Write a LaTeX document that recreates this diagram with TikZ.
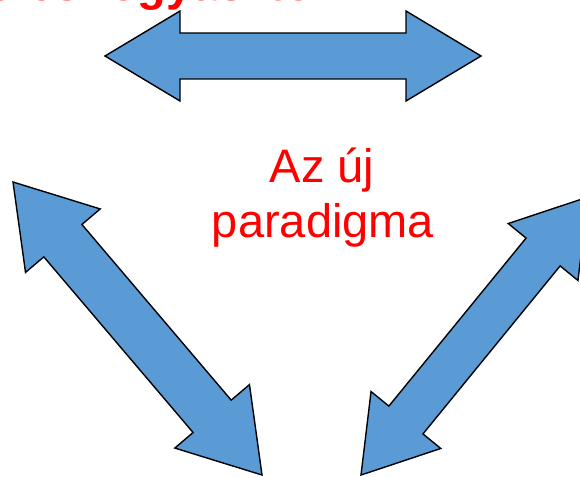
\documentclass[tikz,border=0pt]{standalone}
\usepackage{fontspec}
\setmainfont{Liberation Sans}
\usetikzlibrary{calc}
\definecolor{arrowblue}{HTML}{5B9BD5}
\definecolor{titlered}{HTML}{FF0000}
\tikzset{
  bigarrow/.style={draw=black, line width=1.4pt, fill=arrowblue, line join=miter},
  redtext/.style={text=titlered, inner sep=0pt, font=\fontsize{47}{55}\selectfont},
}
% \mydblarrow{A}{B}{head length}{head half width}{shaft half width}
\newcommand{\mydblarrow}[5]{%
  \path[bigarrow]
    (#1)
    -- ($($(#1)!#3!(#2)$)!#4!90:(#2)$)
    -- ($($(#1)!#3!(#2)$)!#5!90:(#2)$)
    -- ($($(#2)!#3!(#1)$)!#5!-90:(#1)$)
    -- ($($(#2)!#3!(#1)$)!#4!-90:(#1)$)
    -- (#2)
    -- ($($(#2)!#3!(#1)$)!#4!90:(#1)$)
    -- ($($(#2)!#3!(#1)$)!#5!90:(#1)$)
    -- ($($(#1)!#3!(#2)$)!#5!-90:(#2)$)
    -- ($($(#1)!#3!(#2)$)!#4!-90:(#2)$)
    -- cycle;}
\begin{document}
\begin{tikzpicture}[x=1pt,y=-1pt]
  \useasboundingbox (0,0) rectangle (580,476);
  \fill[white] (0,0) rectangle (580,476);
  % title (mostly cut off at the top edge, as in the reference)
  \node[redtext, font=\fontsize{47}{55}\selectfont\bfseries, anchor=base east] (title) at (313,1) {Termelő és fogyasztó};
  % arrows
  \coordinate (tl) at (105,56);
  \coordinate (tr) at (481,56);
  \coordinate (la) at (13,182);
  \coordinate (lb) at (262,475);
  \coordinate (ra) at (361,475);
  \coordinate (rb) at (588,197);
  \mydblarrow{tl}{tr}{75pt}{45pt}{23pt}
  \mydblarrow{la}{lb}{77pt}{49pt}{25pt}
  \mydblarrow{ra}{rb}{71pt}{45pt}{22pt}
  % central label
  \node[redtext, anchor=base] (l1) at (322,182) {Az új};
  \node[redtext, anchor=base] (l2) at (323,237) {paradigma};
\end{tikzpicture}
\end{document}
